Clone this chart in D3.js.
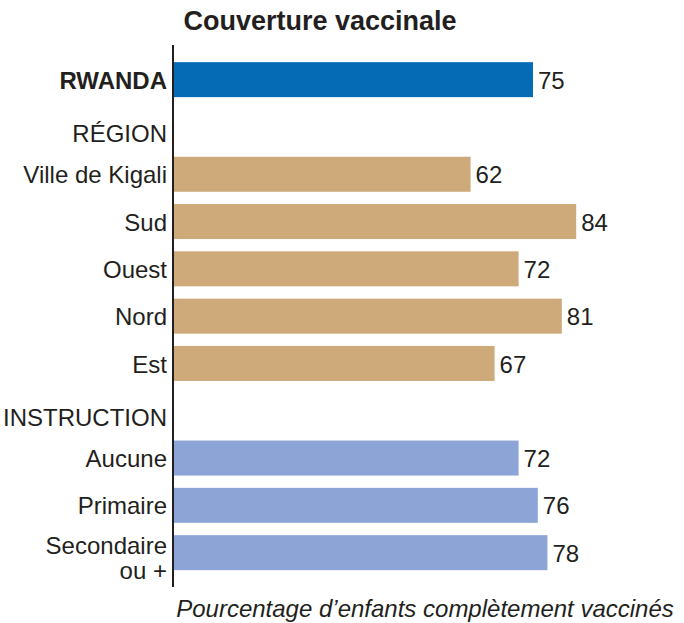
<!DOCTYPE html>
<html>
<head>
<meta charset="utf-8">
<script src="https://cdn.jsdelivr.net/npm/d3@7"></script>
<style>
  body { margin: 0; background: #fff; }
  svg text { font-family: "Liberation Sans Narrow", "Arial Narrow", "Liberation Sans", sans-serif; fill: #231f20; }
</style>
</head>
<body>
<div id="chart"></div>
<script>
// rows from top to bottom, headings have no value
var rows = ["RWANDA", "RÉGION", "Ville de Kigali", "Sud", "Ouest", "Nord", "Est",
            "INSTRUCTION", "Aucune", "Primaire", "Secondaire ou +"];
var values = [75, null, 62, 84, 72, 81, 67, null, 72, 76, 78];
var groups = ["total", "heading", "region", "region", "region", "region", "region",
              "heading", "instruction", "instruction", "instruction"];

var colors = { total: "#046bb4", region: "#cea979", instruction: "#8da5d6" };

var width = 684, height = 623;
var margin = { left: 173, top: 56 };
var step = 47.3;

var svg = d3.select("#chart").append("svg")
    .attr("width", width)
    .attr("height", height);

var x = d3.scaleLinear().domain([0, 100]).range([margin.left, margin.left + 480]);

var y = d3.scaleBand()
    .domain(rows)
    .range([margin.top, margin.top + step * rows.length])
    .paddingInner(0.26)
    .paddingOuter(0.13);

var data = rows.map(function (r, i) {
    return { label: r, value: values[i], group: groups[i] };
});

// title
svg.append("text")
    .attr("x", 320)
    .attr("y", 30)
    .attr("text-anchor", "middle")
    .style("font-weight", "bold")
    .style("font-size", "27px")
    .text("Couverture vaccinale");

var bars = data.filter(function (d) { return d.value != null; });

svg.append("g").selectAll("rect")
    .data(bars)
    .enter().append("rect")
    .attr("x", x(0) + 1)
    .attr("y", function (d) { return y(d.label); })
    .attr("width", function (d) { return x(d.value) - x(0) - 1; })
    .attr("height", y.bandwidth())
    .attr("fill", function (d) { return colors[d.group]; });

// value labels
svg.append("g").selectAll("text")
    .data(bars)
    .enter().append("text")
    .attr("x", function (d) { return x(d.value) + 5; })
    .attr("y", function (d) { return y(d.label) + y.bandwidth() / 2; })
    .attr("dy", "0.38em")
    .style("font-size", "24px")
    .text(function (d) { return d.value; });

// category labels
var labels = svg.append("g").selectAll("text")
    .data(data)
    .enter().append("text")
    .attr("x", margin.left - 6)
    .attr("y", function (d) {
        var c = y(d.label) + y.bandwidth() / 2;
        return d.group == "heading" ? c + 6 : c;
    })
    .attr("dy", "0.38em")
    .attr("text-anchor", "end")
    .style("font-size", "24px")
    .style("font-weight", function (d) { return d.group == "total" ? "bold" : "normal"; });

labels.each(function (d) {
    var t = d3.select(this);
    if (d.label == "Secondaire ou +") {
        t.attr("dy", "0.05em");
        t.append("tspan").attr("x", margin.left - 6).text("Secondaire");
        t.append("tspan").attr("x", margin.left - 6).attr("dy", "1.05em").text("ou +");
    } else {
        t.text(d.label);
    }
});

// vertical axis line
svg.append("line")
    .attr("x1", x(0)).attr("x2", x(0))
    .attr("y1", 45).attr("y2", 587)
    .attr("stroke", "#231f20")
    .attr("stroke-width", 2);

// caption
svg.append("text")
    .attr("x", 425)
    .attr("y", 617)
    .attr("text-anchor", "middle")
    .style("font-style", "italic")
    .style("font-size", "24px")
    .text("Pourcentage d’enfants complètement vaccinés");
</script>
</body>
</html>
